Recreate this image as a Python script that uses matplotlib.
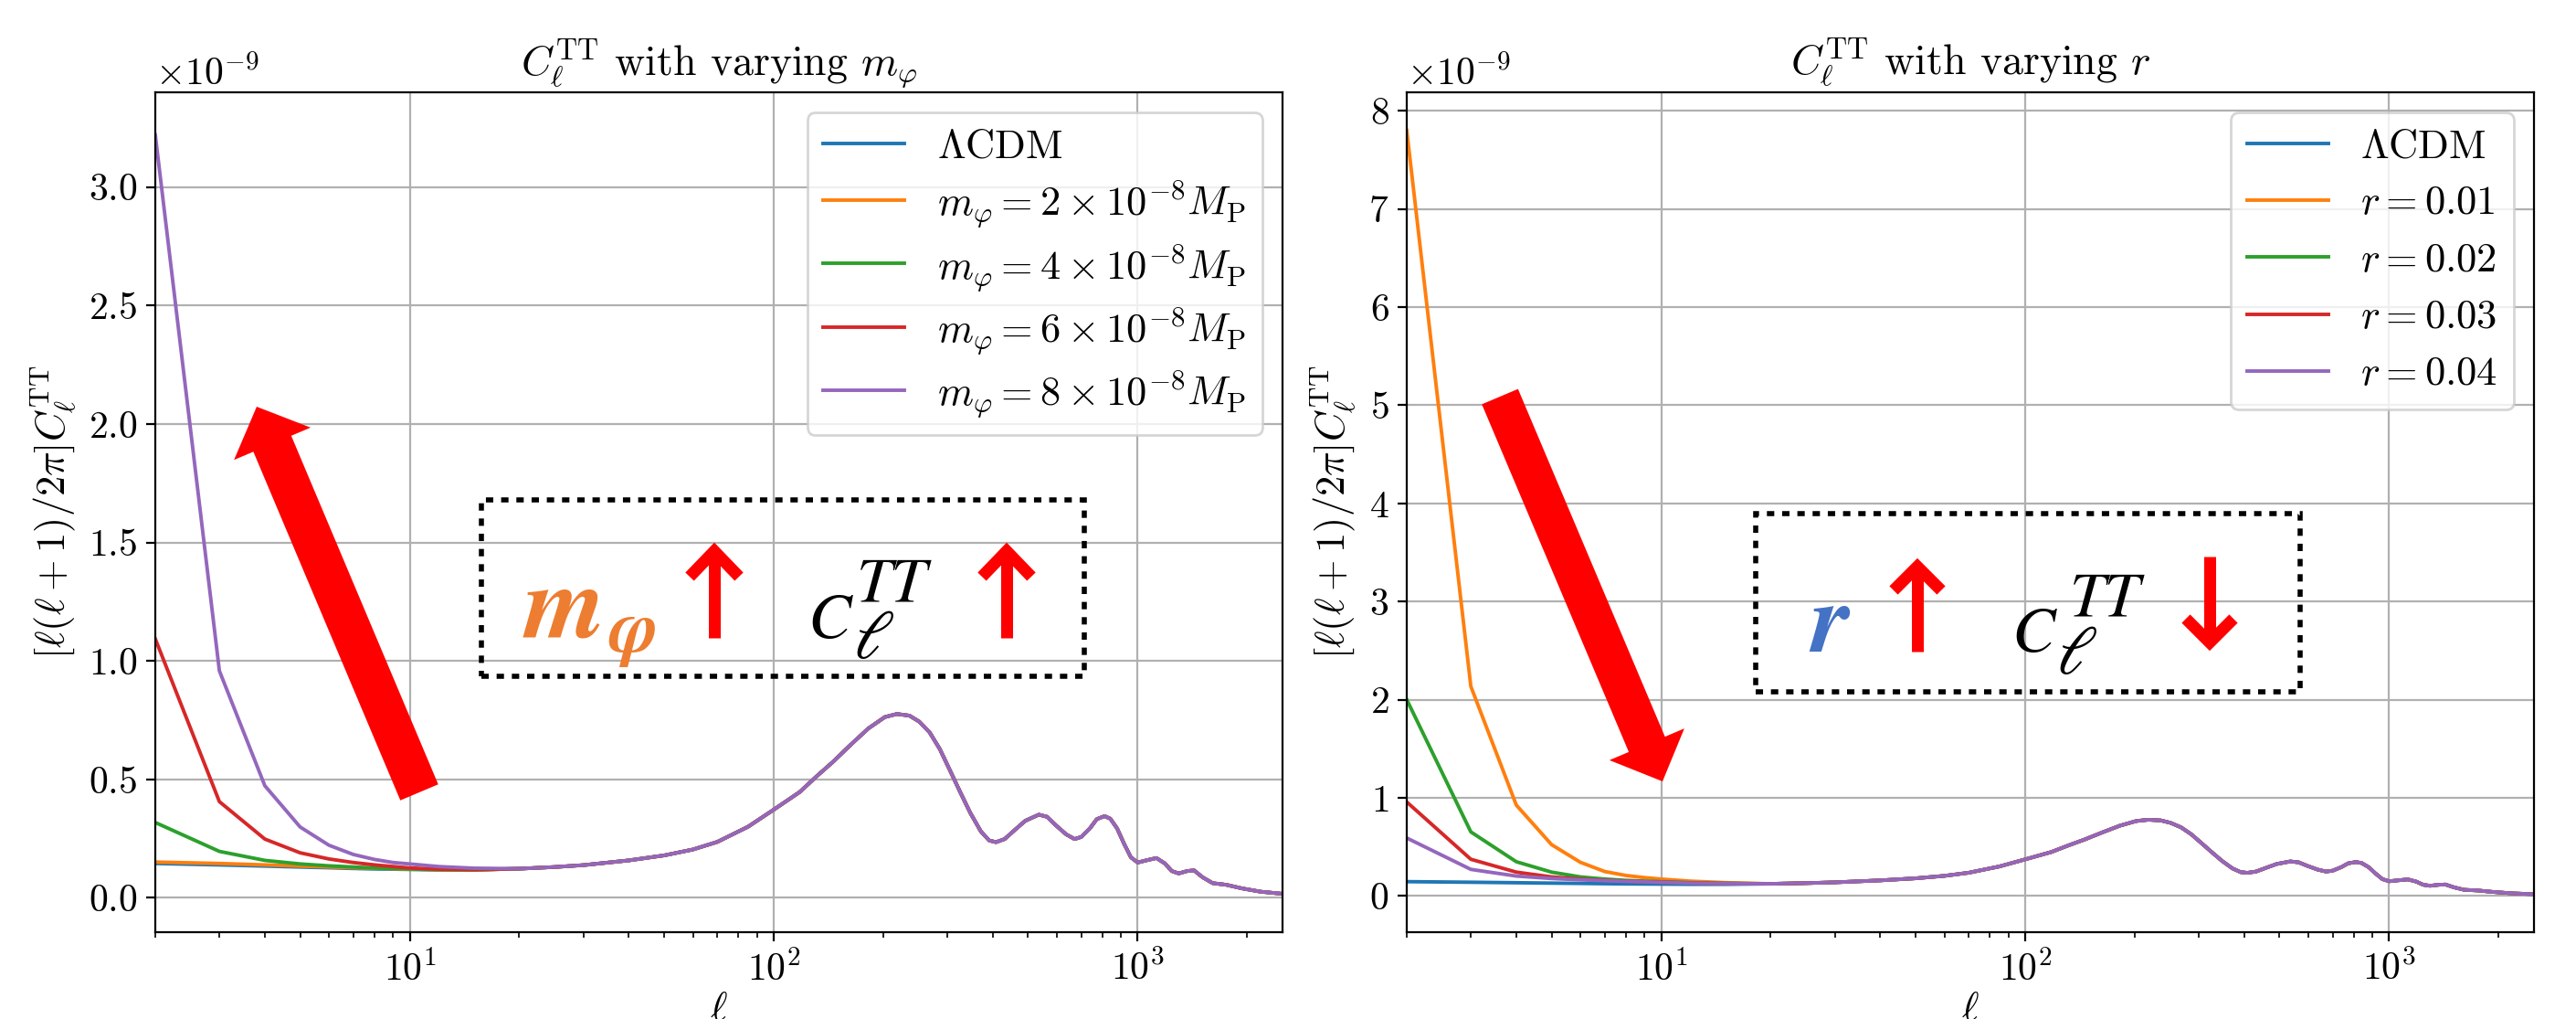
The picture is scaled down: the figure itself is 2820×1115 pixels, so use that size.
import numpy as np
import matplotlib
matplotlib.use("Agg")
import matplotlib.pyplot as plt
from matplotlib.patches import Polygon, Rectangle
from matplotlib.lines import Line2D

plt.rcParams['font.family'] = 'serif'
plt.rcParams['font.serif'] = ['cmr10']
plt.rcParams['mathtext.fontset'] = 'cm'
plt.rcParams['axes.formatter.use_mathtext'] = True
plt.rcParams['axes.unicode_minus'] = False

# ---------------- data (units of 1e-9) ----------------
ell_low = [2, 3, 4, 5, 6, 7, 8, 9, 10, 12, 15]
lcdm_low = [0.145, 0.139, 0.134, 0.130, 0.127, 0.124, 0.122, 0.121, 0.120, 0.118, 0.118]

ell_high = [20, 25, 30, 40, 50, 60, 70, 85, 100, 118, 131, 146, 163, 182, 202, 218,
            236, 251, 268, 286, 305, 325, 347, 371, 391, 408, 431, 460, 491, 535,
            564, 596, 636, 671, 700, 739, 772, 811, 841, 878, 917, 958, 1000, 1055,
            1126, 1188, 1241, 1296, 1368, 1428, 1507, 1607, 1752, 1932, 2175, 2500]
lcdm_high = [0.123, 0.130, 0.138, 0.158, 0.179, 0.204, 0.236, 0.300, 0.372, 0.447,
             0.512, 0.576, 0.647, 0.715, 0.763, 0.776, 0.769, 0.744, 0.699, 0.628,
             0.538, 0.448, 0.358, 0.280, 0.242, 0.235, 0.248, 0.287, 0.325, 0.351,
             0.342, 0.306, 0.268, 0.248, 0.257, 0.293, 0.332, 0.345, 0.334, 0.293,
             0.229, 0.171, 0.149, 0.158, 0.168, 0.145, 0.113, 0.103, 0.113, 0.116,
             0.087, 0.062, 0.055, 0.040, 0.026, 0.017]

# low-ell part of each model (ell_low grid)
mphi_labels = [r'$\Lambda$CDM', r'$m_\varphi=2\times10^{-8}M_{\rm P}$',
               r'$m_\varphi=4\times10^{-8}M_{\rm P}$', r'$m_\varphi=6\times10^{-8}M_{\rm P}$',
               r'$m_\varphi=8\times10^{-8}M_{\rm P}$']
mphi_2 = [0.151, 0.145, 0.139, 0.134, 0.130, 0.127, 0.125, 0.123, 0.121, 0.119, 0.118]
mphi_4 = [0.318, 0.196, 0.158, 0.143, 0.135, 0.130, 0.126, 0.124, 0.122, 0.119, 0.118]
mphi_6 = [1.093, 0.406, 0.248, 0.190, 0.164, 0.149, 0.139, 0.132, 0.126, 0.121, 0.119]
mphi_8 = [3.220, 0.958, 0.473, 0.299, 0.222, 0.183, 0.162, 0.149, 0.143, 0.132, 0.125]

r_labels = [r'$\Lambda$CDM', r'$r=0.01$', r'$r=0.02$', r'$r=0.03$', r'$r=0.04$']
r_001 = [7.800, 2.135, 0.925, 0.522, 0.342, 0.248, 0.208, 0.186, 0.171, 0.150, 0.135]
r_002 = [2.000, 0.652, 0.348, 0.242, 0.193, 0.171, 0.158, 0.150, 0.145, 0.135, 0.128]
r_003 = [0.957, 0.373, 0.242, 0.193, 0.171, 0.158, 0.150, 0.145, 0.140, 0.132, 0.126]
r_004 = [0.590, 0.270, 0.202, 0.177, 0.164, 0.155, 0.148, 0.143, 0.138, 0.130, 0.125]

colors = ['#1f77b4', '#ff7f0e', '#2ca02c', '#d62728', '#9467bd']

# ---------------- figure ----------------
DPI = 200
W, H = 2820, 1115
fig = plt.figure(figsize=(W / DPI, H / DPI), dpi=DPI)
axL = fig.add_axes([170 / W, 1 - 1020 / H, 1234 / W, 919 / H])
axR = fig.add_axes([1540 / W, 1 - 1020 / H, 1234 / W, 919 / H])

ell_all = ell_low + ell_high


def draw(ax, lows, labels, title, spacing):
    for low, lab, c in zip(lows, labels, colors):
        y = np.array(low + lcdm_high) * 1e-9
        ax.plot(ell_all, y, color=c, lw=1.4, label=lab)
    ax.set_xscale('log')
    ax.set_xlim(2, 2500)
    ax.grid(True, which='major', color='#b0b0b0', lw=0.8)
    ax.set_title(title, fontsize=16.5, pad=7)
    ax.set_xlabel(r'$\ell$', fontsize=16, labelpad=2)
    ax.set_ylabel(r'$[\ell(\ell+1)/2\pi]C_\ell^{\rm TT}$', fontsize=16)
    ax.tick_params(labelsize=15)
    ax.yaxis.get_offset_text().set_fontsize(15)
    ax.legend(loc='upper right', fontsize=16, labelspacing=spacing)


draw(axL, [lcdm_low, mphi_2, mphi_4, mphi_6, mphi_8], mphi_labels,
     r'$C_\ell^{\rm TT}$ with varying $m_\varphi$', 0.33)
draw(axR, [lcdm_low, r_001, r_002, r_003, r_004], r_labels,
     r'$C_\ell^{\rm TT}$ with varying $r$', 0.5)
axL.set_yticks(np.arange(0, 3.01, 0.5) * 1e-9)
axL.set_ylim(-0.145e-9, 3.40e-9)
axR.set_yticks(np.arange(0, 8.01, 1) * 1e-9)
axR.set_ylim(-0.37e-9, 8.19e-9)

# ---------------- overlay annotations (pixel coords, y down) ----------------
tr = fig.dpi_scale_trans


def P(x, y):
    return (x / DPI, (H - y) / DPI)


def big_arrow(T, Pt, w, hw, hl):
    T = np.array(T, float)
    Pt = np.array(Pt, float)
    d = (Pt - T) / np.linalg.norm(Pt - T)
    n = np.array([-d[1], d[0]])
    B = Pt - d * hl
    pts = [T + n * w / 2, B + n * w / 2, B + n * hw / 2, Pt,
           B - n * hw / 2, B - n * w / 2, T - n * w / 2]
    pts = [P(*p) for p in pts]
    fig.add_artist(Polygon(pts, closed=True, facecolor='#ff0000', edgecolor='none',
                           transform=tr, zorder=10))


big_arrow((459, 867), (281, 445), 45, 91, 44)
big_arrow((1642, 434), (1820, 855), 43, 89, 44)


def dotted_box(x0, y0, x1, y1):
    fig.add_artist(Rectangle(P(x0, y1), (x1 - x0) / DPI, (y1 - y0) / DPI, fill=False,
                             edgecolor='black', lw=2.0, linestyle=(0, (1.45, 1.55)),
                             transform=tr, zorder=10))


dotted_box(527, 547, 1187, 740)
dotted_box(1922, 562, 2518, 757)

LW_SMALL = 13 * 72 / DPI


def small_arrow(x, y_tail, y_vertex, half, hl):
    s = 1 if y_vertex > y_tail else -1  # +1 pointing down
    xs, ys = zip(*[P(x, y_tail), P(x, y_vertex - s * 4)])
    fig.add_artist(Line2D(xs, ys, color='#ff0000', lw=LW_SMALL, solid_capstyle='butt',
                          transform=tr, zorder=11))
    xs, ys = zip(*[P(x - half, y_vertex - s * hl), P(x, y_vertex), P(x + half, y_vertex - s * hl)])
    fig.add_artist(Line2D(xs, ys, color='#ff0000', lw=LW_SMALL, solid_capstyle='butt',
                          solid_joinstyle='miter', transform=tr, zorder=11))


small_arrow(782, 698, 603, 27, 28)
small_arrow(1102, 698, 603, 27, 28)
small_arrow(2099, 713, 620, 26, 26)
small_arrow(2419, 609, 703, 26, 26)


def t(x, y, s, size, color='black', weight='normal'):
    fig.text(*P(x, y), s, transform=tr, fontsize=size, color=color, family='STIXGeneral',
             style='italic', weight=weight, ha='left', va='baseline', zorder=12)


ORANGE = '#ED7D31'
BLUE = '#4472C4'
t(574, 697, 'm', 41, ORANGE, 'bold')
t(666, 713, '\u03c6', 29, ORANGE, 'bold')
t(884, 698, 'C', 25.5)
t(938, 657, 'TT', 25)
t(934, 720, '\u2113', 27)
t(1982, 713, 'r', 39, BLUE, 'bold')
t(2202, 713, 'C', 25.5)
t(2266, 673, 'TT', 25)
t(2251, 737, '\u2113', 27)

fig.savefig('out.png', dpi=DPI)
